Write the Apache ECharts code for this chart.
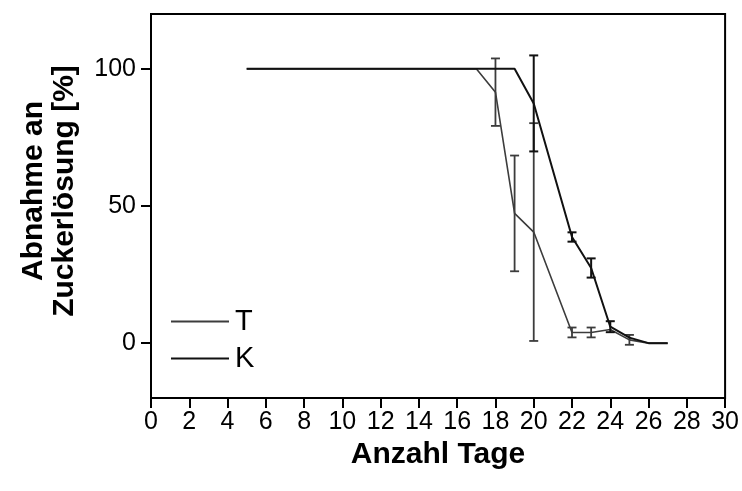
<!DOCTYPE html>
<html>
<head>
<meta charset="utf-8">
<script src="https://cdn.jsdelivr.net/npm/echarts@6/dist/echarts.min.js"></script>
<style>html,body{margin:0;padding:0;background:#fff}#c{width:742px;height:491px}</style>
</head>
<body>
<div id="c"></div>
<script>
// Data
var tX = [5, 17, 18, 19, 20, 22, 23, 24, 25, 26, 27];
var tY = [100, 100, 91.5, 47.3, 40.5, 3.9, 3.9, 5, 1.2, 0, 0];
var tErr = [0, 0, 12.3, 21.1, 39.7, 1.8, 1.8, 0, 1.8, 0, 0];
var kX = [5, 19, 20, 22, 23, 24, 25, 26, 27];
var kY = [100, 100, 87.4, 38.7, 27.4, 6, 2, 0, 0];
var kErr = [0, 0, 17.5, 1.7, 3.5, 2, 0, 0, 0];
var yTicks = [0, 50, 100];
var seriesNames = ['T', 'K'];
var xTitle = 'Anzahl Tage';
var yTitle = 'Abnahme an\nZuckerlösung [%]';

var FONT = 'Liberation Sans';
var tColor = '#3c3c3c', kColor = '#111111';

function pairs(xs, ys) { return xs.map(function (x, i) { return [x, ys[i]]; }); }
function triples(xs, ys, es) {
  var out = [];
  xs.forEach(function (x, i) { if (es[i] > 0) out.push([x, ys[i], es[i]]); });
  return out;
}
function errRender(color, lw) {
  return function (params, api) {
    var x = api.value(0), y = api.value(1), e = api.value(2);
    var top = api.coord([x, y + e]), bot = api.coord([x, y - e]);
    var hw = 4.5;
    var st = { stroke: color, lineWidth: lw };
    return {
      type: 'group', children: [
        { type: 'line', shape: { x1: top[0], y1: top[1], x2: bot[0], y2: bot[1] }, style: st },
        { type: 'line', shape: { x1: top[0] - hw, y1: top[1], x2: top[0] + hw, y2: top[1] }, style: st },
        { type: 'line', shape: { x1: bot[0] - hw, y1: bot[1], x2: bot[0] + hw, y2: bot[1] }, style: st }
      ]
    };
  };
}

var chart = echarts.init(document.getElementById('c'), null, { renderer: 'canvas' });
chart.setOption({
  animation: false,
  backgroundColor: '#fff',
  textStyle: { fontFamily: FONT },
  grid: { left: 151, right: 15, top: 14, bottom: 93, show: true, borderColor: '#000', borderWidth: 2, backgroundColor: 'transparent' },
  legend: {
    orient: 'vertical', left: 166, top: 302,
    itemWidth: 58, itemHeight: 2, itemGap: 8,
    data: [
      { name: seriesNames[0], icon: 'rect', itemStyle: { color: tColor } },
      { name: seriesNames[1], icon: 'rect', itemStyle: { color: kColor } }
    ],
    textStyle: { fontSize: 29, color: '#000', fontFamily: FONT, padding: [0, 0, 0, 1] }
  },
  xAxis: {
    type: 'value', min: 0, max: 30, interval: 2,
    splitLine: { show: false },
    axisLine: { show: true, onZero: false, lineStyle: { color: '#000', width: 2 } },
    axisTick: { show: true, inside: false, length: 10, lineStyle: { color: '#000', width: 2 } },
    axisLabel: { color: '#000', fontSize: 25, fontFamily: FONT, margin: 12 },
    name: xTitle, nameLocation: 'middle', nameGap: 40,
    nameTextStyle: { fontSize: 30, fontWeight: 'bold', color: '#000', fontFamily: FONT }
  },
  yAxis: {
    type: 'value', min: -20, max: 120,
    splitLine: { show: false },
    axisLine: { show: true, onZero: false, lineStyle: { color: '#000', width: 2 } },
    axisTick: { show: true, inside: false, length: 10, customValues: yTicks, lineStyle: { color: '#000', width: 2 } },
    axisLabel: { color: '#000', fontSize: 25, fontFamily: FONT, margin: 15, customValues: yTicks }
  },
  graphic: [{
    type: 'text', x: 49, y: 191, rotation: Math.PI / 2,
    style: { text: yTitle, font: 'bold 30px "Liberation Sans"', fill: '#000', align: 'center', verticalAlign: 'middle', lineHeight: 31 }
  }],
  series: [
    { name: 'T', type: 'line', data: pairs(tX, tY), symbol: 'none', lineStyle: { color: tColor, width: 1.6 }, itemStyle: { color: tColor }, z: 3 },
    { name: 'K', type: 'line', data: pairs(kX, kY), symbol: 'none', lineStyle: { color: kColor, width: 2 }, itemStyle: { color: kColor }, z: 4 },
    { name: 'T-err', type: 'custom', data: triples(tX, tY, tErr), renderItem: errRender(tColor, 1.8), z: 3, encode: { x: 0, y: 1 } },
    { name: 'K-err', type: 'custom', data: triples(kX, kY, kErr), renderItem: errRender(kColor, 2), z: 4, encode: { x: 0, y: 1 } }
  ]
});
</script>
</body>
</html>
